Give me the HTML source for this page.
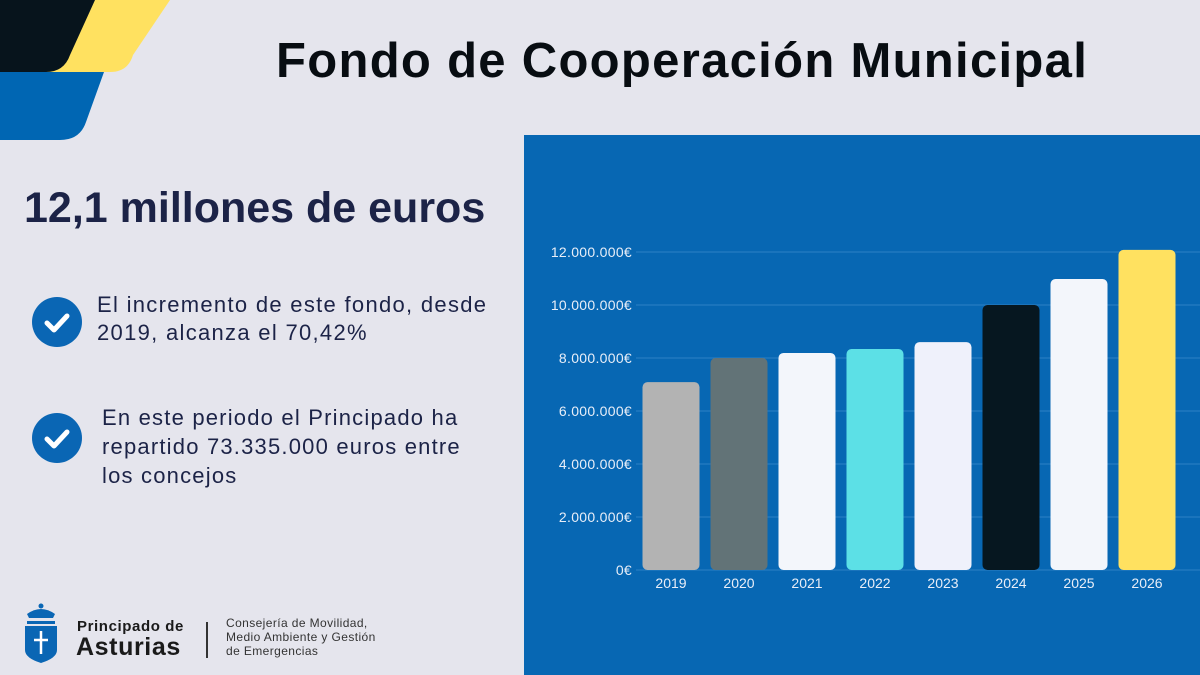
<!DOCTYPE html>
<html><head><meta charset="utf-8"><style>
body{margin:0;width:1200px;height:675px;background:#e5e5ed;font-family:"Liberation Sans",sans-serif;overflow:hidden;position:relative}
.abs{position:absolute}
</style></head><body>
<svg class="abs" style="left:0;top:0" width="200" height="150">
<path d="M0 0 H170 L133 55 Q128 72 110 72 H0Z" fill="#ffe160"/>
<path d="M0 0 H95 L70 55 Q64 72 46 72 H0Z" fill="#07141c"/>
<path d="M0 72 H104 L86 122 Q80 140 60 140 H0Z" fill="#0066b3"/>
</svg>
<div class="abs" style="left:276px;top:33px;font-size:49px;letter-spacing:1.3px;font-weight:bold;color:#080d12;white-space:nowrap">Fondo de Cooperación Municipal</div>
<div class="abs" style="left:24px;top:184px;font-size:43px;font-weight:bold;color:#1c2347;white-space:nowrap">12,1 millones de euros</div>
<svg class="abs" style="left:32px;top:297px" width="50" height="50"><circle cx="25" cy="25" r="25" fill="#0a66b4"/><path d="M15 26 L22 33 L35 19" stroke="#fff" stroke-width="5" fill="none" stroke-linecap="round" stroke-linejoin="round"/></svg>
<div class="abs" style="left:97px;top:291px;font-size:22px;letter-spacing:1.3px;line-height:28px;color:#1c2347;white-space:nowrap">El incremento de este fondo, desde<br>2019, alcanza el 70,42%</div>
<svg class="abs" style="left:32px;top:413px" width="50" height="50"><circle cx="25" cy="25" r="25" fill="#0a66b4"/><path d="M15 26 L22 33 L35 19" stroke="#fff" stroke-width="5" fill="none" stroke-linecap="round" stroke-linejoin="round"/></svg>
<div class="abs" style="left:102px;top:403px;font-size:22px;letter-spacing:1.2px;line-height:29px;color:#1c2347;white-space:nowrap">En este periodo el Principado ha<br>repartido 73.335.000 euros entre<br>los concejos</div>
<svg class="abs" style="left:22px;top:602px" width="38" height="62"><circle cx="19" cy="4" r="2.5" fill="#0a66b4"/><path d="M5 12 Q19 2 33 12 L31 16 H7Z" fill="#0a66b4"/><rect x="5" y="19" width="28" height="3" fill="#0a66b4"/><path d="M3 24 H35 V48 Q35 56 19 61 Q3 56 3 48Z" fill="#0a66b4"/><path d="M19 29 V52 M12 38 H26" stroke="#fff" stroke-width="2.5"/></svg>
<div class="abs" style="left:77px;top:618px;font-size:15px;letter-spacing:0.6px;font-weight:bold;color:#1a1a1a;white-space:nowrap">Principado de</div>
<div class="abs" style="left:76px;top:633px;font-size:25px;letter-spacing:0.6px;font-weight:bold;color:#1a1a1a">Asturias</div>
<div class="abs" style="left:206px;top:622px;width:2px;height:36px;background:#333"></div>
<div class="abs" style="left:226px;top:616px;font-size:12px;line-height:14px;letter-spacing:0.4px;color:#333;white-space:nowrap">Consejería de Movilidad,<br>Medio Ambiente y Gestión<br>de Emergencias</div>
<svg class="abs" style="left:524px;top:135px" width="676" height="540" id="chart"></svg>
<script>
const years=["2019","2020","2021","2022","2023","2024","2025","2026"];
const values=[7090000,8000000,8190000,8340000,8600000,10000000,10980000,12080000];
const colors=["#b3b3b3","#627377","#f3f6fb","#5ce0e6","#eff1fb","#061720","#f3f6fb","#ffe160"];
const ticks=[0,2000000,4000000,6000000,8000000,10000000,12000000];
const tickLabels=["0€","2.000.000€","4.000.000€","6.000.000€","8.000.000€","10.000.000€","12.000.000€"];
const NS="http://www.w3.org/2000/svg";
const svg=document.getElementById('chart');
const y=v=>435-v*318/12000000;
const x=i=>147+i*68;
function mk(t,a){const e=document.createElementNS(NS,t);for(const k in a)e.setAttribute(k,a[k]);svg.appendChild(e);return e;}
mk('rect',{x:0,y:0,width:676,height:540,fill:'#0767b3'});
ticks.forEach((t,i)=>{
 const l=mk('line',{x1:112,x2:676,y1:y(t),y2:y(t),stroke:'#2d80c6','stroke-width':1});
 
 
 const tx=mk('text',{x:108,y:y(t)+5,'text-anchor':'end','font-size':14,'letter-spacing':0.3,fill:'#e8eef8','font-family':'Liberation Sans, sans-serif'});
 tx.textContent=tickLabels[i];
 
 
});
years.forEach((yr,i)=>{
 const top=y(values[i]);
 const b=mk('rect',{x:x(i)-28.5,y:top,width:57,height:435-top,rx:5,fill:colors[i]});
 
 
 const t=mk('text',{x:x(i),y:453,'text-anchor':'middle','font-size':14,fill:'#e8eef8','font-family':'Liberation Sans, sans-serif'});
 t.textContent=yr;
 
 
});
</script>
</body></html>
